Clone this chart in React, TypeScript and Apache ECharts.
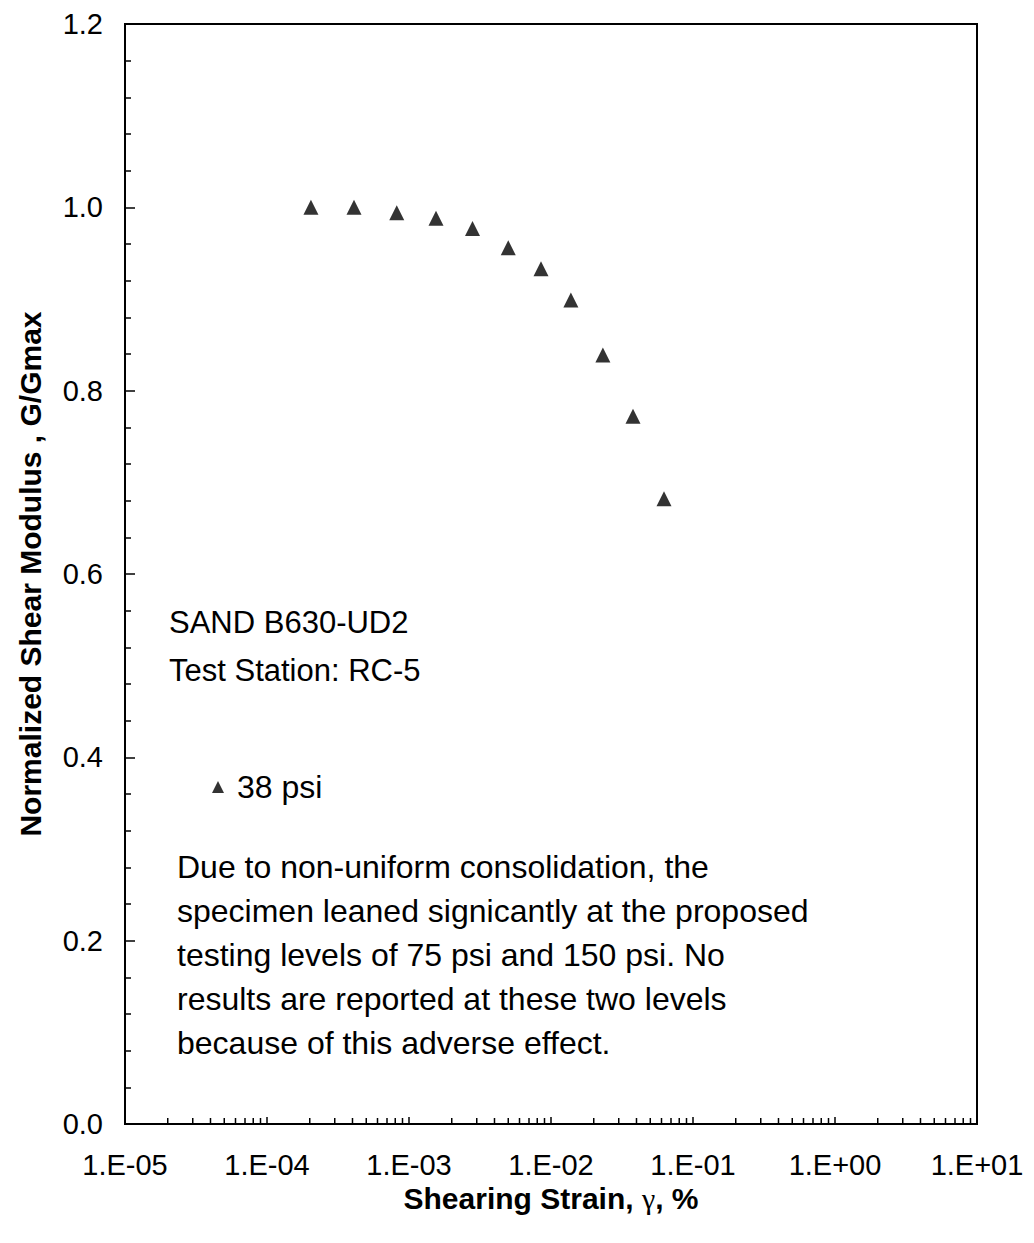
import React, { useEffect, useRef } from "react";
import * as echarts from "echarts";

// Resonant-column test results: shearing strain (%) vs normalized shear modulus
const strainPct: number[] = [2.04e-4, 4.1e-4, 8.2e-4, 1.55e-3, 2.8e-3, 5.0e-3, 8.5e-3, 1.38e-2, 2.32e-2, 3.78e-2, 6.25e-2];
const modulusRatio: number[] = [1.0, 1.0, 0.994, 0.988, 0.977, 0.956, 0.933, 0.899, 0.839, 0.772, 0.682];
const seriesName = "38 psi";

const decadeExponents: number[] = [-5, -4, -3, -2, -1, 0];
const minorMultipliers: number[] = [2, 3, 4, 5, 6, 7, 8, 9];

const specimenLines: string[] = ["SAND B630-UD2", "Test Station: RC-5"];
const noteLines: string[] = [
  "Due to non-uniform consolidation, the",
  "specimen leaned signicantly at the proposed",
  "testing levels of 75 psi and 150 psi. No",
  "results are reported at these two levels",
  "because of this adverse effect.",
];

const FONT = "'Liberation Sans', Arial, Helvetica, sans-serif";
const SERIF = "'Liberation Serif', 'Times New Roman', serif";

function formatExp(v: number): string {
  const e = Math.round(Math.log10(v));
  const sign = e < 0 ? "-" : "+";
  const abs = Math.abs(e);
  return `1.E${sign}${abs < 10 ? "0" + abs : abs}`;
}

export default function App() {
  const ref = useRef<HTMLDivElement>(null);

  useEffect(() => {
    if (!ref.current) return;
    const chart = echarts.init(ref.current, null, { renderer: "svg" });

    const minorTickData: number[][] = [];
    decadeExponents.forEach((e) => {
      minorMultipliers.forEach((m) => minorTickData.push([m * Math.pow(10, e), 0]));
    });

    const graphics: any[] = [];
    specimenLines.forEach((t, i) => {
      graphics.push({
        type: "text",
        x: 169,
        y: 622 + i * 48,
        style: { text: t, font: `31px ${FONT}`, fill: "#000", verticalAlign: "middle" },
      });
    });
    noteLines.forEach((t, i) => {
      graphics.push({
        type: "text",
        x: 177,
        y: 867 + i * 44,
        style: { text: t, font: `32px ${FONT}`, fill: "#000", verticalAlign: "middle" },
      });
    });

    const titleStyle = { fontSize: 30, fontWeight: "bold" as const, fontFamily: FONT, color: "#000" };

    chart.setOption({
      animation: false,
      backgroundColor: "#fff",
      textStyle: { fontFamily: FONT, color: "#000" },
      grid: {
        left: 125,
        right: 57,
        top: 24,
        bottom: 119,
        show: true,
        borderColor: "#000",
        borderWidth: 2,
        backgroundColor: "transparent",
      },
      legend: {
        left: 207,
        top: 766,
        itemWidth: 12,
        itemHeight: 12,
        data: [{ name: seriesName, icon: "triangle" }],
        textStyle: { fontSize: 32, fontFamily: FONT, color: "#000", padding: [0, 0, 0, 8] },
      },
      xAxis: {
        type: "log",
        logBase: 10,
        min: 1e-5,
        max: 10,
        name: "Shearing Strain, {g|γ}, %",
        nameLocation: "middle",
        nameGap: 58,
        nameTextStyle: {
          ...titleStyle,
          rich: { g: { fontSize: 30, fontFamily: SERIF, fontWeight: "normal", color: "#000" } },
        },
        axisLine: { show: true, lineStyle: { color: "#000", width: 2 } },
        axisTick: { show: true, inside: true, length: 7, lineStyle: { color: "#000", width: 1.5 } },
        axisLabel: {
          fontSize: 29,
          color: "#000",
          margin: 26,
          formatter: (v: number) => formatExp(v),
        },
        splitLine: { show: false },
        minorTick: { show: false },
      },
      yAxis: {
        type: "value",
        min: 0,
        max: 1.2,
        interval: 0.2,
        name: "Normalized Shear Modulus , G/Gmax",
        nameLocation: "middle",
        nameGap: 80,
        nameTextStyle: titleStyle,
        axisLine: { show: true, lineStyle: { color: "#000", width: 2 } },
        axisTick: { show: true, inside: true, length: 10, lineStyle: { color: "#000", width: 1.5 } },
        minorTick: { show: true, splitNumber: 5, length: 6, lineStyle: { color: "#000", width: 1.5 } },
        axisLabel: {
          fontSize: 29,
          color: "#000",
          margin: 22,
          formatter: (v: number) => v.toFixed(1),
        },
        splitLine: { show: false },
      },
      series: [
        {
          name: seriesName,
          type: "scatter",
          symbol: "triangle",
          symbolSize: 15,
          itemStyle: { color: "#000" },
          data: strainPct.map((x, i) => [x, modulusRatio[i]]),
        },
        {
          // minor ticks at 2..9 within each decade of the log axis
          type: "custom",
          silent: true,
          data: minorTickData,
          renderItem: (params: any, api: any) => {
            const p = api.coord([api.value(0), 0]);
            return {
              type: "line",
              shape: { x1: p[0], y1: p[1], x2: p[0], y2: p[1] - 6 },
              style: { stroke: "#000", lineWidth: 1.5 },
            };
          },
        },
      ],
      graphic: graphics,
    });

    return () => chart.dispose();
  }, []);

  return (
    <div
      ref={ref}
      style={{ position: "absolute", left: 0, top: 0, width: 1034, height: 1243, background: "#fff" }}
    />
  );
}
